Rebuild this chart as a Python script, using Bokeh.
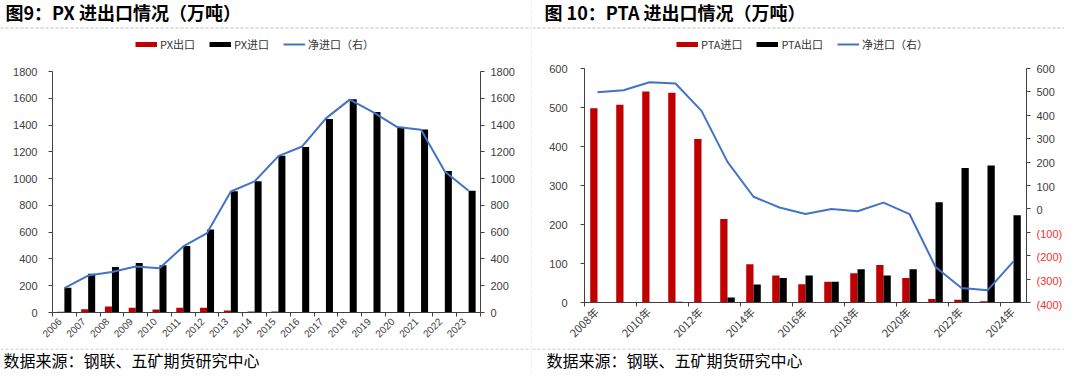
import numpy as np
from math import pi
from bokeh.plotting import figure
from bokeh.models import (Range1d, LinearAxis, FixedTicker, Legend, LegendItem,
                          Span, ColumnDataSource)
from bokeh.core.properties import value
from bokeh.layouts import row, column
from bokeh.embed import file_html
from bokeh.resources import INLINE

# ---------------- data: PX (figure 9) ----------------
px_years = ["2006", "2007", "2008", "2009", "2010", "2011", "2012", "2013", "2014",
            "2015", "2016", "2017", "2018", "2019", "2020", "2021", "2022", "2023"]
px_export = [5, 25, 45, 35, 22, 35, 35, 15, 8, 8, 0, 0, 0, 0, 0, 0, 3, 0]
px_import = [185, 290, 340, 370, 352, 497, 620, 905, 980, 1170, 1237, 1445, 1592,
             1498, 1383, 1367, 1057, 910]
px_net = [182, 276, 303, 343, 331, 493, 593, 904, 979, 1168, 1240, 1450, 1590,
          1495, 1385, 1365, 1053, 909]
px_yticks = [0, 200, 400, 600, 800, 1000, 1200, 1400, 1600, 1800]

# ---------------- data: PTA (figure 10) ----------------
pta_years = ["2008年", "2009年", "2010年", "2011年", "2012年", "2013年", "2014年", "2015年",
             "2016年", "2017年", "2018年", "2019年", "2020年", "2021年", "2022年", "2023年", "2024年"]
pta_import = [498, 507, 541, 538, 419, 214, 98, 69, 47, 53, 75, 96, 63, 9, 7, 3, 0]
pta_export = [0, 0, 0, 2, 0, 13, 46, 63, 69, 53, 85, 69, 85, 257, 345, 351, 224]
pta_net = [498, 507, 541, 536, 419, 201, 52, 6, -22, 0, -10, 27, -22, -248, -338, -348, -224]
pta_yticks_left = [0, 100, 200, 300, 400, 500, 600]
pta_yticks_right = [-400, -300, -200, -100, 0, 100, 200, 300, 400, 500, 600]

titles = ["图9：PX 进出口情况（万吨）", "图 10：PTA 进出口情况（万吨）"]
legend1 = ["PX出口", "PX进口", "净进口（右）"]
legend2 = ["PTA进口", "PTA出口", "净进口（右）"]
source_text = "数据来源：钢联、五矿期货研究中心"

RED = "#C00000"
BLACK = "#000000"
BLUE = "#4472C4"
AX = "#404040"
NEGRED = "#F03030"
SEP = "#BDBDBD"
CJK = "Noto Sans CJK SC"
NUM = "Liberation Sans"

WL, WS, WR = 531, 1, 532        # left panel, separator, right panel
HH, HM, HF = 54, 294, 26        # header, main, footer heights
H = HH + HM + HF


def no_align(p):
    try:
        p.frame_align = False
    except Exception:
        pass


def blank_fig(w, h, x0, x1, y0, y1):
    p = figure(width=w, height=h, x_range=Range1d(x0, x1), y_range=Range1d(y0, y1),
               output_backend="svg", toolbar_location=None,
               x_axis_location=None, y_axis_location=None, min_border=0)
    p.xgrid.visible = False
    p.ygrid.visible = False
    p.grid.grid_line_color = None
    p.outline_line_color = None
    p.background_fill_color = "white"
    p.border_fill_color = "white"
    no_align(p)
    return p


def main_fig(w, bl, br, bt, bb, nx, y0, y1, y0r, y1r):
    p = figure(width=w, height=HM, x_range=Range1d(0, nx), y_range=Range1d(y0, y1),
               output_backend="svg", toolbar_location=None,
               min_border_left=bl, min_border_right=br, min_border_top=bt, min_border_bottom=bb)
    p.extra_y_ranges = {"net": Range1d(y0r, y1r)}
    p.xgrid.visible = False
    p.ygrid.visible = False
    p.outline_line_color = None
    p.background_fill_color = "white"
    p.border_fill_color = "white"
    no_align(p)
    return p


def style_y(ax, ticks, standoff):
    ax.ticker = FixedTicker(ticks=ticks)
    ax.axis_line_color = AX
    ax.major_tick_line_color = AX
    ax.major_tick_in = 0
    ax.major_tick_out = 4
    ax.minor_tick_line_color = None
    ax.major_label_text_font = NUM
    ax.major_label_text_font_size = "11px"
    ax.major_label_text_color = AX
    ax.major_label_standoff = standoff


def style_x(ax, label_pos, labels, boundaries, font, size):
    ax.ticker = FixedTicker(ticks=label_pos, minor_ticks=boundaries)
    ax.major_label_overrides = {float(c): l for c, l in zip(label_pos, labels)}
    ax.axis_line_color = AX
    ax.major_tick_line_color = None
    ax.major_tick_in = 0
    ax.major_tick_out = 0
    ax.minor_tick_line_color = AX
    ax.minor_tick_in = 0
    ax.minor_tick_out = 4
    ax.major_label_orientation = pi / 4
    ax.major_label_standoff = 3
    ax.major_label_text_font = font
    ax.major_label_text_font_size = size
    ax.major_label_text_color = AX


def header(w, title, title_x, labels, leg_x):
    p = blank_fig(w, HH, 0, w, HH, 0)
    p.text(x=[title_x], y=[11], text=[title], text_font=value(CJK),
           text_font_size="18px", text_font_style="bold", text_color="#000000",
           text_align="left", text_baseline="middle")
    p.add_layout(Span(location=27.5, dimension="width", line_color=SEP,
                      line_width=1, line_dash="3 2"))
    nan = [np.nan]
    r1 = p.line(nan, nan, line_color=RED, line_width=5)
    r2 = p.line(nan, nan, line_color=BLACK, line_width=5)
    r3 = p.line(nan, nan, line_color=BLUE, line_width=2)
    lg = Legend(items=[LegendItem(label=labels[0], renderers=[r1]),
                       LegendItem(label=labels[1], renderers=[r2]),
                       LegendItem(label=labels[2], renderers=[r3])],
                orientation="horizontal", location=(leg_x, 2), padding=0, margin=0,
                spacing=14, glyph_width=22, glyph_height=12, label_height=12,
                label_standoff=3, label_text_font=CJK, label_text_font_size="11px",
                label_text_color="#333333", border_line_color=None,
                background_fill_alpha=0)
    p.add_layout(lg)
    return p


def footer(w, text_x):
    p = blank_fig(w, HF, 0, w, HF, 0)
    p.add_layout(Span(location=0.5, dimension="width", line_color=SEP,
                      line_width=1, line_dash="3 2"))
    p.text(x=[text_x], y=[11], text=[source_text], text_font=value(CJK),
           text_font_size="16px", text_color="#000000",
           text_align="left", text_baseline="middle")
    return p


# ================= left panel (PX) =================
n1 = len(px_years)
x1 = np.arange(n1) + 0.5
bw1 = 0.295
m1 = main_fig(WL, 52, 51, 17, 36, n1, 0, 1800, 0, 1800)
m1.vbar(x=x1 - bw1 / 2, top=px_export, width=bw1, bottom=0, fill_color=RED, line_color=None)
m1.vbar(x=x1 + bw1 / 2, top=px_import, width=bw1, bottom=0, fill_color=BLACK, line_color=None)
m1.line(x=x1, y=px_net, y_range_name="net", line_color=BLUE, line_width=2)
style_y(m1.yaxis[0], px_yticks, 11)
ra1 = LinearAxis(y_range_name="net")
m1.add_layout(ra1, "right")
style_y(ra1, px_yticks, 6)
style_x(m1.xaxis[0], list(x1 - 0.2), px_years, list(range(n1 + 1)), NUM, "10px")

left_col = column(header(WL, titles[0], 5, legend1, 135), m1, footer(WL, 3))

# ================= separator =================
sep = blank_fig(WS, H, 0, 1, 0, H)
sep.add_layout(Span(location=0.5, dimension="height", line_color=SEP,
                    line_width=1, line_dash="3 2"))

# ================= right panel (PTA) =================
n2 = len(pta_years)
x2 = np.arange(n2) + 0.5
bw2 = 0.28
WM, WSIDE = 500, 32
BT2, BB2 = 14, 44
m2 = main_fig(WM, 52, 6, BT2, BB2, n2, 0, 600, -400, 600)
m2.vbar(x=x2 - bw2 / 2, top=pta_import, width=bw2, bottom=0, fill_color=RED, line_color=None)
m2.vbar(x=x2 + bw2 / 2, top=pta_export, width=bw2, bottom=0, fill_color=BLACK, line_color=None)
m2.line(x=x2, y=pta_net, y_range_name="net", line_color=BLUE, line_width=2)
style_y(m2.yaxis[0], pta_yticks_left, 13)
ra2 = LinearAxis(y_range_name="net")
m2.add_layout(ra2, "right")
style_y(ra2, pta_yticks_right, 0)
ra2.major_label_overrides = {t: "" for t in pta_yticks_right}
style_x(m2.xaxis[0], list(x2[::2] - 0.05), pta_years[::2], list(range(0, n2, 2)), CJK, "11px")

# right-axis tick labels (negative values in red, accounting style)
fh = HM - BT2 - BB2
r_lo, r_hi = -400.0, 600.0
ppu = fh / (r_hi - r_lo)
side = blank_fig(WSIDE, HM, 0, WSIDE, r_lo - BB2 / ppu, r_hi + BT2 / ppu)
lab_txt = [("(%d)" % -t) if t < 0 else str(t) for t in pta_yticks_right]
lab_col = [NEGRED if t < 0 else AX for t in pta_yticks_right]
side_src = ColumnDataSource(dict(x=[4] * len(pta_yticks_right), y=pta_yticks_right,
                                 t=lab_txt, c=lab_col))
side.text(x="x", y="y", text="t", text_color="c", source=side_src,
          text_font=value(NUM), text_font_size="11px",
          text_align="left", text_baseline="middle")

right_col = column(header(WR, titles[1], 12, legend2, 144), row(m2, side), footer(WR, 14))

layout = row(left_col, sep, right_col)
open("out.html", "w").write(file_html(layout, INLINE))
